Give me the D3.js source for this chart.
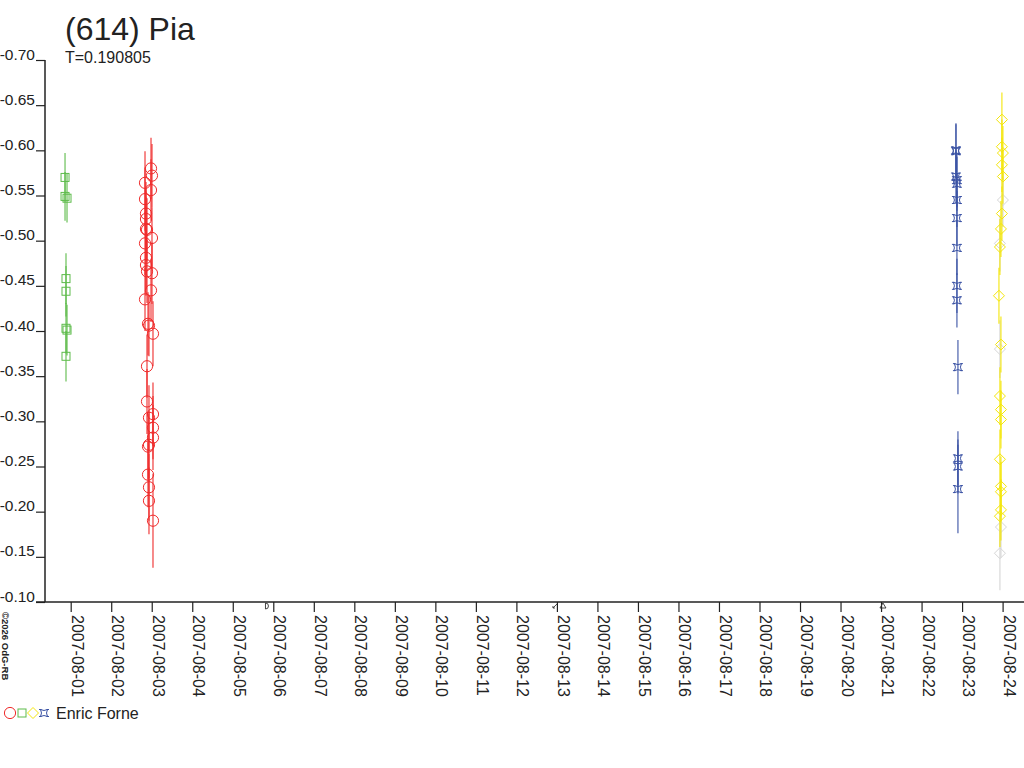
<!DOCTYPE html>
<html><head><meta charset="utf-8">
<script src="https://cdn.jsdelivr.net/npm/d3@7"></script>
<style>
body{margin:0;background:#fff}
svg{display:block}
text{font-family:Arial,"Liberation Sans",sans-serif;fill:#222}
</style>
</head><body>
<svg id="c" width="1024" height="768"></svg>
<script>
const title = "(614) Pia";
const periodLabel = "T=0.190805";
const observer = "Enric Forne";
const copyright = "©2026 OdG-RB";
const yTicks = [-0.70,-0.65,-0.60,-0.55,-0.50,-0.45,-0.40,-0.35,-0.30,-0.25,-0.20,-0.15,-0.10];
const yTickLabels = ["-0.70","-0.65","-0.60","-0.55","-0.50","-0.45","-0.40","-0.35","-0.30","-0.25","-0.20","-0.15","-0.10"];
const xTickLabels = ["2007-08-01","2007-08-02","2007-08-03","2007-08-04","2007-08-05","2007-08-06",
  "2007-08-07","2007-08-08","2007-08-09","2007-08-10","2007-08-11","2007-08-12","2007-08-13",
  "2007-08-14","2007-08-15","2007-08-16","2007-08-17","2007-08-18","2007-08-19","2007-08-20",
  "2007-08-21","2007-08-22","2007-08-23","2007-08-24"];
// times: days after 2007-08-01 00:00 UT
const redT = [1.982,2.006,1.834,1.982,1.834,1.858,1.858,1.858,1.883,2.006,1.834,1.858,1.858,1.883,2.006,1.982,1.834,1.908,1.932,2.031,1.883,1.883,2.031,1.932,2.031,2.031,1.932,1.908,1.908,1.932,1.932,2.031];
const redV = [-0.580,-0.572,-0.564,-0.556,-0.546,-0.530,-0.524,-0.513,-0.512,-0.503,-0.497,-0.481,-0.473,-0.466,-0.464,-0.445,-0.435,-0.408,-0.406,-0.397,-0.361,-0.322,-0.308,-0.304,-0.293,-0.282,-0.274,-0.272,-0.241,-0.227,-0.212,-0.190];
const redE = [0.034,0.035,0.035,0.034,0.035,0.035,0.034,0.035,0.035,0.034,0.035,0.035,0.034,0.035,0.034,0.035,0.035,0.035,0.034,0.036,0.035,0.036,0.035,0.036,0.035,0.036,0.037,0.036,0.036,0.037,0.037,0.052];
const greenT = [-0.140,-0.140,-0.091,-0.116,-0.116,-0.116,-0.091,-0.116];
const greenV = [-0.570,-0.549,-0.547,-0.458,-0.444,-0.403,-0.401,-0.372];
const greenE = [0.027,0.027,0.027,0.028,0.028,0.028,0.028,0.028];
const yellowT = [22.983,22.983,23.008,22.983,23.008,22.983,22.959,22.934,22.910,22.959,22.934,22.959,22.959,22.934,22.959,22.959,22.959,22.934];
const yellowV = [-0.634,-0.604,-0.597,-0.584,-0.571,-0.530,-0.513,-0.493,-0.439,-0.385,-0.328,-0.313,-0.302,-0.258,-0.228,-0.222,-0.202,-0.195];
const yellowE = [0.030,0.030,0.030,0.030,0.030,0.030,0.031,0.031,0.031,0.031,0.032,0.032,0.032,0.033,0.033,0.033,0.034,0.034];
const grayT = [23.008,22.934,22.934,22.959,22.934];
const grayV = [-0.545,-0.497,-0.380,-0.183,-0.154];
const grayE = [0.030,0.031,0.032,0.034,0.041];
const blueT = [21.849,21.849,21.849,21.873,21.873,21.873,21.873,21.873,21.873,21.873,21.898,21.898,21.898,21.898];
const blueV = [-0.600,-0.599,-0.571,-0.567,-0.563,-0.545,-0.525,-0.492,-0.450,-0.434,-0.360,-0.259,-0.250,-0.225];
const blueE = [0.030,0.030,0.030,0.030,0.030,0.030,0.030,0.030,0.030,0.030,0.030,0.030,0.030,0.049];
const moonT = [4.869,11.952,20.047];

const dayMs = 86400000, epoch = Date.UTC(2007,7,1);
const toDate = t => new Date(epoch + t*dayMs);
const parse = d3.utcParse("%Y-%m-%d");
const tickDates = xTickLabels.map(parse);

const svg = d3.select("#c");
const x = d3.scaleUtc().domain([tickDates[0], tickDates[tickDates.length-1]]).range([70.7, 1002.6]);
const y = d3.scaleLinear().domain([-0.70,-0.10]).range([60,602]);

// titles
svg.append("text").attr("x",65).attr("y",39.5).attr("font-size",32).text(title);
svg.append("text").attr("x",65).attr("y",63).attr("font-size",16).text(periodLabel);

// y axis
const gy = svg.append("g").attr("transform","translate(45,0)")
  .call(d3.axisLeft(y).tickValues(yTicks).tickFormat((d,i)=>yTickLabels[i]).tickSize(9).tickSizeOuter(0));
gy.select(".domain").remove();
gy.selectAll(".tick line").attr("stroke","#222").attr("stroke-width",1.2);
gy.selectAll(".tick text").attr("x",-10).attr("dy","-1").attr("font-size",15.5).attr("fill","#222")
  .style("font-family","Arial, 'Liberation Sans', sans-serif");
svg.append("line").attr("x1",45).attr("x2",45).attr("y1",y(-0.70)).attr("y2",y(-0.10))
  .attr("stroke","#222").attr("stroke-width",1.5);

// x axis
const gx = svg.append("g").attr("transform",`translate(0,${y(-0.10)})`)
  .call(d3.axisBottom(x).tickValues(tickDates).tickFormat((d,i)=>xTickLabels[i]).tickSize(10).tickSizeOuter(0));
gx.select(".domain").remove();
gx.selectAll(".tick line").attr("stroke","#222").attr("stroke-width",1.2);
gx.selectAll(".tick text").attr("x",null).attr("y",null).attr("dy",null)
  .attr("transform","translate(0.5,13) rotate(90)").attr("text-anchor","start")
  .attr("font-size",16).attr("fill","#222").style("font-family","Arial, 'Liberation Sans', sans-serif");
svg.append("line").attr("x1",36).attr("x2",1024).attr("y1",y(-0.10)).attr("y2",y(-0.10))
  .attr("stroke","#222").attr("stroke-width",1.5);

// moon phase marks
const moonShapes = ["M-2.5,-3 A3,3 0 1,1 -2.5,3 Z","M-2,2 L2,-2 M-2,2 L-2,0 M-2,2 L0,2","M0,-3 L3,2 L-3,2 Z"];
moonT.forEach((t,i)=>{
  svg.append("path").attr("transform",`translate(${x(toDate(t))},${y(-0.10)+4})`)
    .attr("d",moonShapes[i]).attr("fill","none").attr("stroke","#333").attr("stroke-width",0.9);
});

// copyright
svg.append("text").attr("transform","translate(2,612) rotate(90)").attr("font-size",9.5)
  .attr("font-weight","bold").text(copyright);

// symbols
const shapes = {
  circle: g => g.append("circle").attr("r",5.6),
  square: g => g.append("rect").attr("x",-4).attr("y",-4).attr("width",8).attr("height",8),
  diamond: g => g.append("path").attr("d","M0,-5.5L5.5,0L0,5.5L-5.5,0Z"),
  star: g => g.append("path").attr("d","M-3.5,-3.5Q0,-1.5 3.5,-3.5Q1.5,0 3.5,3.5Q0,1.5 -3.5,3.5Q-1.5,0 -3.5,-3.5Z M-5,-3.5H-2.5M2.5,-3.5H5M-5,3.5H-2.5M2.5,3.5H5")
};

function drawSeries(T,V,E,color,shape){
  const g = svg.append("g");
  const data = T.map((t,i)=>({t:toDate(t),v:V[i],e:E[i]}));
  g.selectAll("line.eb").data(data).join("line").attr("class","eb")
    .attr("x1",d=>x(d.t)).attr("x2",d=>x(d.t))
    .attr("y1",d=>y(d.v-d.e)).attr("y2",d=>y(d.v+d.e))
    .attr("stroke",color).attr("stroke-width",1.1);
  data.forEach(d=>{
    const m = g.append("g").attr("transform",`translate(${x(d.t)},${y(d.v)})`);
    shapes[shape](m).attr("fill","none").attr("stroke",color).attr("stroke-width",1);
  });
}
drawSeries(grayT,grayV,grayE,"#d6d6d6","diamond");
drawSeries(greenT,greenV,greenE,"#5dbb4a","square");
drawSeries(redT,redV,redE,"#ef2b2b","circle");
drawSeries(blueT,blueV,blueE,"#3a52a4","star");
drawSeries(yellowT,yellowV,yellowE,"#f4e60a","diamond");

// legend
const legend = [["circle","#ef2b2b",10],["square","#5dbb4a",22],["diamond","#f4e60a",33],["star","#3a52a4",44]];
legend.forEach(([s,c,lx])=>{
  const m = svg.append("g").attr("transform",`translate(${lx},713)`);
  shapes[s](m).attr("fill","none").attr("stroke",c).attr("stroke-width",1);
});
svg.append("text").attr("x",56).attr("y",719).attr("font-size",16).text(observer);
</script>
</body></html>
